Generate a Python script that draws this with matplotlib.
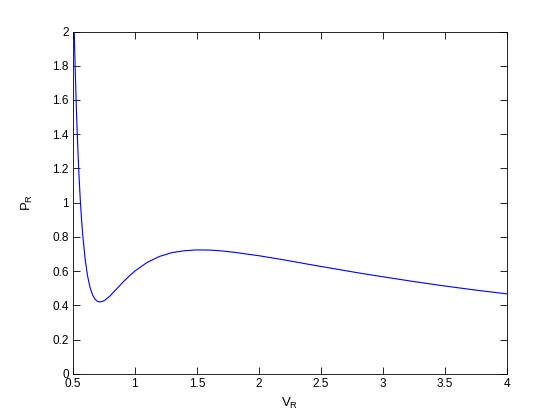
import matplotlib
matplotlib.use("Agg")
import matplotlib.pyplot as plt

# Reduced volume and reduced pressure
v_r = [0.50, 0.51, 0.52, 0.53, 0.54, 0.55, 0.56, 0.57, 0.58, 0.60, 0.62, 0.64,
       0.66, 0.68, 0.70, 0.72, 0.74, 0.76, 0.78, 0.80, 0.85, 0.90, 0.95, 1.00,
       1.10, 1.20, 1.30, 1.40, 1.50, 1.60, 1.70, 1.80, 2.00, 2.20, 2.40, 2.60,
       2.80, 3.00, 3.25, 3.50, 3.75, 4.00]
p_r = [2.400, 2.051, 1.762, 1.523, 1.325, 1.160, 1.022, 0.907, 0.812, 0.667,
       0.568, 0.502, 0.460, 0.435, 0.423, 0.420, 0.423, 0.431, 0.442, 0.455,
       0.493, 0.532, 0.568, 0.600, 0.651, 0.686, 0.708, 0.719, 0.724, 0.723,
       0.718, 0.710, 0.690, 0.666, 0.640, 0.615, 0.590, 0.567, 0.539, 0.513,
       0.489, 0.467]

x_ticks = [0.5, 1, 1.5, 2, 2.5, 3, 3.5, 4]
x_tick_labels = ["0.5", "1", "1.5", "2", "2.5", "3", "3.5", "4"]
y_ticks = [0, 0.2, 0.4, 0.6, 0.8, 1, 1.2, 1.4, 1.6, 1.8, 2]
y_tick_labels = ["0", "0.2", "0.4", "0.6", "0.8", "1", "1.2", "1.4", "1.6", "1.8", "2"]

plt.rcParams['font.family'] = ['Liberation Sans', 'DejaVu Sans']
plt.rcParams['mathtext.fontset'] = 'custom'
plt.rcParams['mathtext.rm'] = 'Liberation Sans'

fig = plt.figure(figsize=(5.6, 4.2), dpi=100, facecolor='white')
ax = fig.add_axes([0.13, 0.11, 0.775, 0.815])
ax.plot(v_r, p_r, color=(0, 0, 1), linewidth=0.8)
ax.set_xlim(0.5, 4)
ax.set_ylim(0, 2)
ax.set_xticks(x_ticks)
ax.set_xticklabels(x_tick_labels)
ax.set_yticks(y_ticks)
ax.set_yticklabels(y_tick_labels)
ax.tick_params(direction='in', top=True, right=True, length=5, width=0.6,
               labelsize=8.5, pad=3)
for s in ax.spines.values():
    s.set_linewidth(0.6)
ax.set_xlabel(r"V$_\mathrm{R}$", fontsize=9.5, labelpad=4)
ax.set_ylabel(r"P$_\mathrm{R}$", fontsize=9.5, labelpad=12)
fig.savefig("out.png", dpi=100, facecolor='white')
